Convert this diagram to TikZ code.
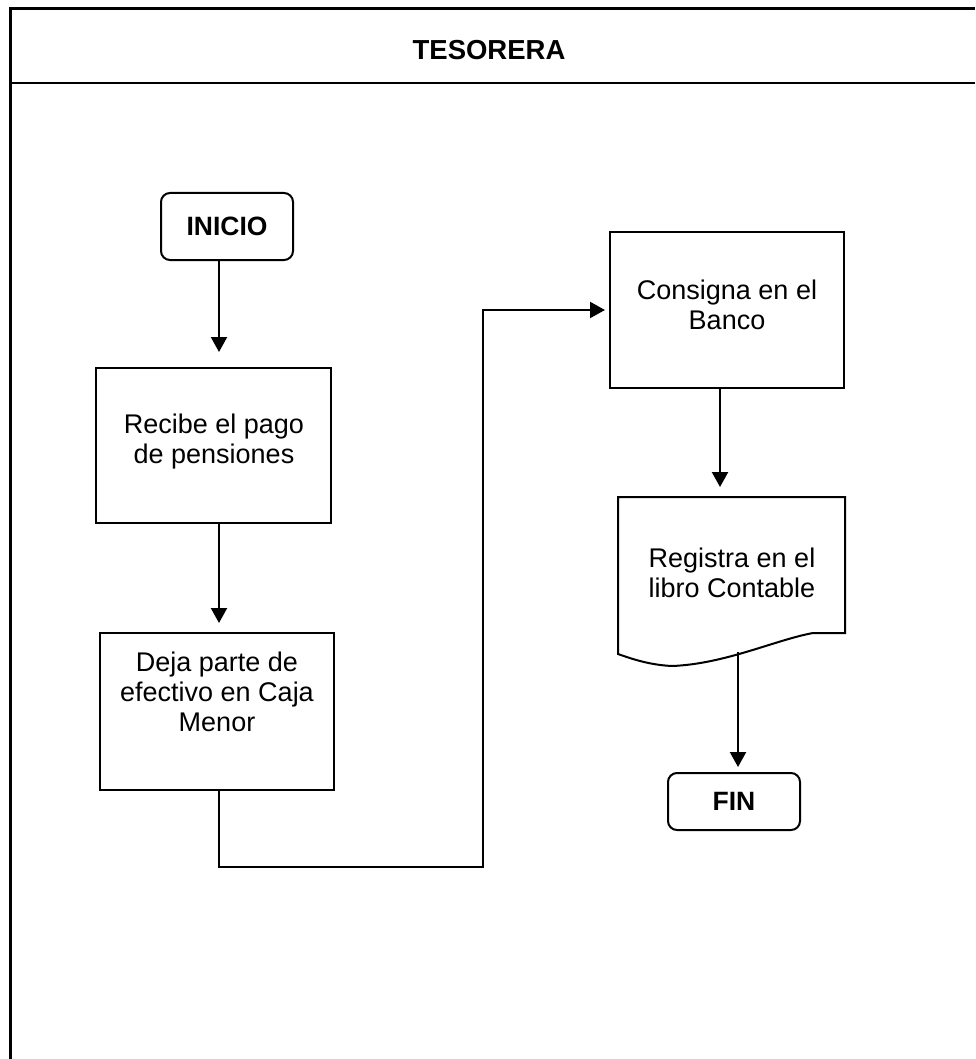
\documentclass[tikz,border=0pt]{standalone}
\usepackage{fontspec}
\setmainfont{Liberation Sans}
\usetikzlibrary{arrows.meta}
\begin{document}
\begin{tikzpicture}[x=1pt,y=-1pt,
  proc/.style={draw, line width=2pt, inner sep=0pt},
  term/.style={draw, line width=2pt, rounded corners=9pt, inner sep=0pt,
    minimum width=132pt, font=\fontsize{26.5}{30}\selectfont\bfseries},
  lbl/.style={align=center, inner sep=0pt, font=\fontsize{27}{30}\selectfont},
  flow/.style={line width=2.2pt, -{Triangle[length=15pt,width=16pt]}},
  link/.style={line width=2.2pt}]
\useasboundingbox (0,0) rectangle (975,1059);

% lane frame and header
\draw[line width=3pt] (975,9) -- (10,9) -- (10,1059);
\draw[line width=2.4pt] (10,83) -- (975,83);
\node[lbl, font=\fontsize{27.5}{30}\selectfont\bfseries] (lane) at (489,50) {TESORERA};

% left column
\node[term, minimum height=67pt] (inicio) at (227,226.5) {INICIO};
\node[proc, minimum width=235pt, minimum height=155pt] (recibe) at (213.5,445.5) {};
\node[lbl] (recibeT) at (214,442) {Recibe el pago\\de pensiones};
\node[proc, minimum width=234pt, minimum height=157pt] (deja) at (217,711.5) {};
\node[lbl] (dejaT) at (217,692) {Deja parte de\\efectivo en Caja\\Menor};

% right column
\node[proc, minimum width=234pt, minimum height=156pt] (consigna) at (727,310) {};
\node[lbl] (consignaT) at (727,305) {Consigna en el\\Banco};

% document shape for the ledger entry
\coordinate (regNW) at (618,497);
\coordinate (regNE) at (845,497);
\draw[line width=2pt] (regNW) -- (regNE) -- (845,633) -- (813,633)
  .. controls (775,640) and (725,664) .. (672,666)
  .. controls (650,665) and (632,659) .. (618,654) -- cycle;
\node[lbl] (regT) at (732,572.5) {Registra en el\\libro Contable};
\coordinate (regout) at (738,652);

\node[term, minimum height=57pt] (fin) at (734,801.5) {FIN};

% column guides for the vertical connectors
\coordinate (colL) at (219,0);
\coordinate (colR) at (720,0);
\coordinate (bend) at (483,867);

% connectors
\draw[flow, shorten >=15pt] (inicio.south -| colL) -- (recibe.north -| colL);
\draw[flow, shorten >=9pt] (recibe.south -| colL) -- (deja.north -| colL);
\draw[flow, shorten >=4pt] (deja.south -| colL) |- (bend) |- (consigna.west);
\draw[flow, shorten >=10pt] (consigna.south -| colR) -- (regNW -| colR);
\draw[flow, shorten >=5pt] (regout) -- (regout |- fin.north);
\end{tikzpicture}
\end{document}
